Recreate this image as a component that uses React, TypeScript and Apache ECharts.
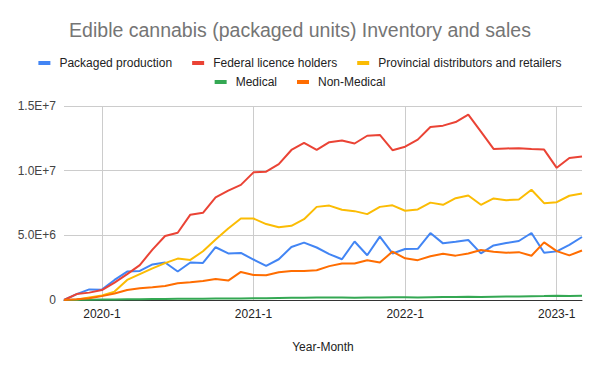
import React, { useEffect, useRef } from "react";
import * as echarts from "echarts";

const months = [
  "2019-10", "2019-11", "2019-12",
  "2020-1", "2020-2", "2020-3", "2020-4", "2020-5", "2020-6", "2020-7", "2020-8", "2020-9", "2020-10", "2020-11", "2020-12",
  "2021-1", "2021-2", "2021-3", "2021-4", "2021-5", "2021-6", "2021-7", "2021-8", "2021-9", "2021-10", "2021-11", "2021-12",
  "2022-1", "2022-2", "2022-3", "2022-4", "2022-5", "2022-6", "2022-7", "2022-8", "2022-9", "2022-10", "2022-11", "2022-12",
  "2023-1", "2023-2", "2023-3",
];

const packagedProduction = [
  0, 450000, 820000, 800000, 1550000, 2200000, 2250000, 2750000, 2900000, 2200000, 2900000, 2870000, 4080000, 3600000, 3640000,
  3130000, 2640000, 3150000, 4100000, 4440000, 4060000, 3550000, 3150000, 4520000, 3460000, 4900000, 3600000,
  3940000, 3960000, 5180000, 4380000, 4500000, 4640000, 3600000, 4220000, 4400000, 4560000, 5180000, 3650000,
  3760000, 4270000, 4870000,
];

const federalLicenceHolders = [
  0, 460000, 570000, 770000, 1340000, 2000000, 2700000, 3900000, 4950000, 5200000, 6600000, 6740000, 7930000, 8450000, 8900000,
  9870000, 9920000, 10500000, 11600000, 12150000, 11600000, 12200000, 12330000, 12100000, 12700000, 12760000, 11580000,
  11850000, 12400000, 13380000, 13480000, 13760000, 14330000, 13020000, 11680000, 11720000, 11740000, 11680000, 11630000,
  10220000, 10980000, 11100000,
];

const provincialDistributors = [
  0, 20000, 200000, 350000, 650000, 1550000, 2000000, 2450000, 2850000, 3200000, 3100000, 3770000, 4680000, 5530000, 6300000,
  6300000, 5870000, 5620000, 5740000, 6250000, 7200000, 7300000, 6980000, 6870000, 6640000, 7200000, 7320000,
  6900000, 7000000, 7530000, 7360000, 7870000, 8080000, 7360000, 7850000, 7720000, 7770000, 8520000, 7490000,
  7560000, 8060000, 8240000,
];

const medical = [
  0, 10000, 20000, 30000, 40000, 50000, 60000, 70000, 80000, 90000, 100000, 100000, 110000, 120000, 120000,
  130000, 130000, 150000, 170000, 180000, 190000, 190000, 200000, 180000, 200000, 200000, 220000,
  210000, 200000, 220000, 240000, 230000, 250000, 240000, 260000, 270000, 270000, 290000, 300000,
  330000, 300000, 330000,
];

const nonMedical = [
  0, 50000, 130000, 300000, 500000, 770000, 900000, 980000, 1080000, 1300000, 1380000, 1470000, 1630000, 1500000, 2170000,
  1940000, 1910000, 2150000, 2250000, 2250000, 2300000, 2620000, 2820000, 2820000, 3070000, 2900000, 3740000,
  3220000, 3080000, 3380000, 3580000, 3430000, 3600000, 3860000, 3730000, 3650000, 3700000, 3420000, 4460000,
  3780000, 3450000, 3830000,
];

const yTicks = { min: 0, max: 15000000, interval: 5000000 };

const FONT = "'Liberation Sans', Arial, sans-serif";

export default function App() {
  const ref = useRef<HTMLDivElement>(null);
  useEffect(() => {
    document.body.style.margin = "0";
    if (!ref.current) return;
    const chart = echarts.init(ref.current, null, { renderer: "svg" });
    const isYearStart = (idx: number) => months[idx].endsWith("-1");
    const mk = (name: string, data: number[], color: string) => ({
      name,
      type: "line",
      data,
      showSymbol: false,
      symbol: "none",
      lineStyle: { width: 2, color },
      itemStyle: { color },
    });
    const legendBase = {
      icon: "rect",
      itemWidth: 12,
      itemHeight: 4,
      itemGap: 20,
      textStyle: { fontFamily: FONT, fontSize: 12, color: "#222", padding: [0, 0, 0, 4] },
    };
    chart.setOption({
      animation: false,
      textStyle: { fontFamily: FONT },
      title: {
        text: "Edible cannabis (packaged units) Inventory and sales",
        left: "center",
        top: 15,
        textStyle: { fontFamily: FONT, fontSize: 19.5, fontWeight: "normal", color: "#757575" },
      },
      legend: [
        { ...legendBase, top: 52, left: "center", data: ["Packaged production", "Federal licence holders", "Provincial distributors and retailers"] },
        { ...legendBase, top: 71, left: "center", data: ["Medical", "Non-Medical"] },
      ],
      grid: { left: 64, right: 18, top: 106, bottom: 71, containLabel: false },
      xAxis: {
        type: "category",
        data: months,
        boundaryGap: false,
        name: "Year-Month",
        nameLocation: "middle",
        nameGap: 41,
        nameTextStyle: { fontFamily: FONT, fontSize: 12, color: "#222" },
        axisLine: { show: true, lineStyle: { color: "#333", width: 1 } },
        axisTick: { show: false },
        axisLabel: {
          interval: (idx: number) => isYearStart(idx),
          fontFamily: FONT,
          fontSize: 12,
          color: "#222",
          margin: 8,
        },
        splitLine: { show: true, interval: (idx: number) => isYearStart(idx), lineStyle: { color: "#ccc", width: 1 } },
      },
      yAxis: {
        type: "value",
        min: yTicks.min,
        max: yTicks.max,
        interval: yTicks.interval,
        axisLine: { show: false },
        axisTick: { show: false },
        axisLabel: {
          fontFamily: FONT,
          fontSize: 12,
          color: "#444",
          margin: 8,
          formatter: (v: number) => (v === 0 ? "0" : v.toExponential(1).toUpperCase()),
        },
        splitLine: { lineStyle: { color: "#ccc", width: 1 } },
      },
      series: [
        mk("Packaged production", packagedProduction, "#4285F4"),
        mk("Federal licence holders", federalLicenceHolders, "#EA4335"),
        mk("Provincial distributors and retailers", provincialDistributors, "#FBBC04"),
        mk("Medical", medical, "#34A853"),
        mk("Non-Medical", nonMedical, "#FF6D01"),
      ],
    });
    return () => chart.dispose();
  }, []);
  return <div ref={ref} style={{ width: 600, height: 371 }} />;
}
